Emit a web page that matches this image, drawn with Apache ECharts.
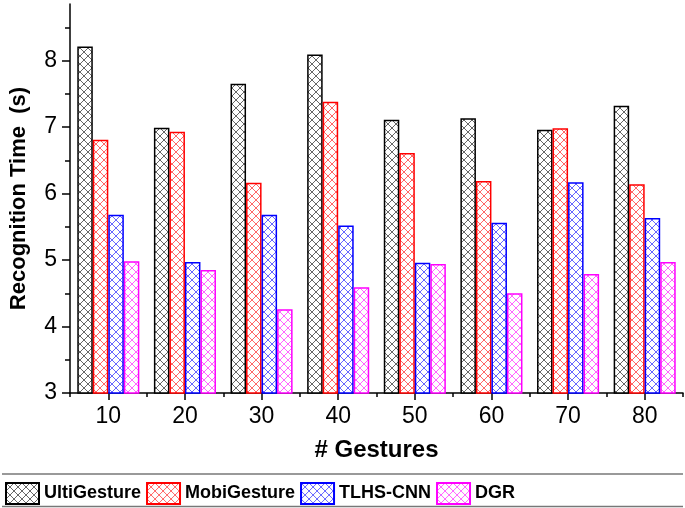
<!DOCTYPE html>
<html>
<head>
<meta charset="utf-8">
<script src="https://cdn.jsdelivr.net/npm/echarts@6/dist/echarts.min.js"></script>
<style>
  html, body { margin: 0; padding: 0; background: #fff; }
  #chart { width: 685px; height: 508px; }
</style>
</head>
<body>
<div id="chart"></div>
<script>
// Data
const categories = ['10', '20', '30', '40', '50', '60', '70', '80'];
const ultiGesture = [8.21, 6.99, 7.65, 8.09, 7.11, 7.13, 6.96, 7.32];
const mobiGesture = [6.81, 6.93, 6.16, 7.38, 6.61, 6.19, 6.98, 6.14];
const tlhsCnn = [5.68, 4.97, 5.68, 5.52, 4.96, 5.56, 6.17, 5.63];
const dgr = [4.98, 4.85, 4.26, 4.59, 4.94, 4.50, 4.79, 4.97];
const seriesNames = ['UltiGesture', 'MobiGesture', 'TLHS-CNN', 'DGR'];
const majorTicks = [3, 4, 5, 6, 7, 8];
const minorTicks = [3.5, 4.5, 5.5, 6.5, 7.5, 8.5];

const COLORS = ['#000000', '#ff0000', '#0000ff', '#ff00ff'];
const FONT = '"Liberation Sans", Arial, sans-serif';

// crosshatch tile used as bar fill
const makeHatch = (color) => {
  const size = 8;
  const c = document.createElement('canvas');
  c.width = size;
  c.height = size;
  const ctx = c.getContext('2d');
  ctx.fillStyle = '#fff';
  ctx.fillRect(0, 0, size, size);
  ctx.strokeStyle = color;
  ctx.globalAlpha = 0.75;
  ctx.lineWidth = 0.8;
  ctx.beginPath();
  ctx.moveTo(-1, -1); ctx.lineTo(size + 1, size + 1);
  ctx.moveTo(size + 1, -1); ctx.lineTo(-1, size + 1);
  ctx.stroke();
  return c;
};

const chart = echarts.init(document.getElementById('chart'));

const buildSeries = (name, data, i) => ({
  name,
  type: 'bar',
  data,
  xAxisIndex: 0,
  yAxisIndex: 0,
  barGap: '0%',
  barCategoryGap: '19%',
  itemStyle: {
    color: { image: makeHatch(COLORS[i]), repeat: 'repeat' },
    borderColor: COLORS[i],
    borderWidth: 1.5
  },
  emphasis: { disabled: true }
});

const axisLineStyle = { color: '#000', width: 1.5 };

const option = {
  animation: false,
  backgroundColor: '#fff',
  textStyle: { fontFamily: FONT },
  grid: { left: 67, right: 2, top: 4, bottom: 115, containLabel: false },
  legend: {
    left: 0,
    top: 477,
    itemWidth: 33,
    itemHeight: 21,
    itemGap: 5,
    icon: 'rect',
    selectedMode: false,
    data: seriesNames,
    textStyle: { fontFamily: FONT, fontSize: 18, fontWeight: 'bold', color: '#000' }
  },
  xAxis: [
    {
      type: 'category',
      data: categories,
      axisLine: { lineStyle: axisLineStyle },
      axisTick: { show: true, length: 4, alignWithLabel: false, lineStyle: axisLineStyle },
      axisLabel: { show: false },
      name: '# Gestures',
      nameLocation: 'middle',
      nameGap: 45,
      nameTextStyle: { fontFamily: FONT, fontSize: 24, fontWeight: 'bold', color: '#000' }
    },
    {
      type: 'category',
      data: categories,
      position: 'bottom',
      axisLine: { show: false },
      axisTick: { show: true, length: 7, alignWithLabel: true, lineStyle: axisLineStyle },
      axisLabel: { margin: 12, fontFamily: FONT, fontSize: 23, color: '#000' }
    }
  ],
  yAxis: [
    {
      type: 'value',
      min: 3,
      max: 8.85,
      axisLine: { show: true, lineStyle: axisLineStyle },
      axisTick: { show: true, length: 8, customValues: majorTicks, lineStyle: axisLineStyle },
      axisLabel: { margin: 13, customValues: majorTicks, fontFamily: FONT, fontSize: 23, color: '#000' },
      splitLine: { show: false },
      name: 'Recognition Time  (s)',
      nameLocation: 'middle',
      nameGap: 40,
      nameRotate: 90,
      nameTextStyle: { fontFamily: FONT, fontSize: 22, fontWeight: 'bold', color: '#000' }
    },
    {
      type: 'value',
      min: 3,
      max: 8.85,
      position: 'left',
      axisLine: { show: false },
      axisTick: { show: true, length: 5, customValues: minorTicks, lineStyle: axisLineStyle },
      axisLabel: { show: false },
      splitLine: { show: false }
    }
  ],
  series: [
    buildSeries(seriesNames[0], ultiGesture, 0),
    buildSeries(seriesNames[1], mobiGesture, 1),
    buildSeries(seriesNames[2], tlhsCnn, 2),
    buildSeries(seriesNames[3], dgr, 3)
  ],
  graphic: [
    { type: 'line', shape: { x1: 2, y1: 474, x2: 683, y2: 474 }, style: { stroke: '#777', lineWidth: 1.5 } },
    { type: 'line', shape: { x1: 2, y1: 506.5, x2: 683, y2: 506.5 }, style: { stroke: '#777', lineWidth: 1.5 } }
  ]
};

chart.setOption(option);
</script>
</body>
</html>
